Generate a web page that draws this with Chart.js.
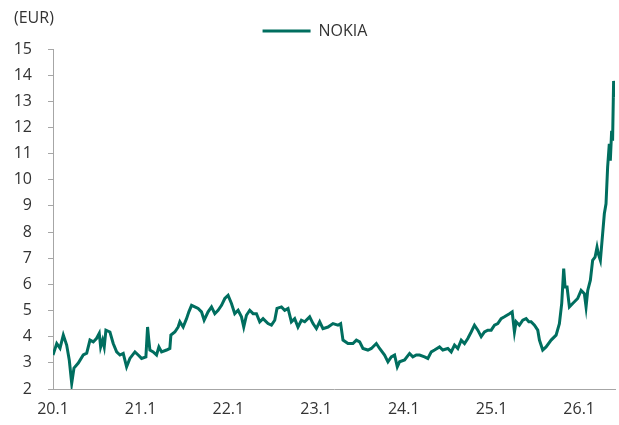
<!DOCTYPE html>
<html>
<head>
<meta charset="utf-8">
<script src="https://cdn.jsdelivr.net/npm/chart.js@4.4.1/dist/chart.umd.min.js"></script>
<style>
  html, body { margin: 0; padding: 0; background: #fff; }
  #wrap { width: 619px; height: 425px; position: relative; }
</style>
</head>
<body>
<div id="wrap"><canvas id="nokiaChart"></canvas></div>
<script>
// months since Jan 2020
const months = [0, 0.51, 0.96, 1.41, 1.87, 2.23, 2.56, 2.87, 3.46, 4.14, 4.61, 5.06, 5.51, 5.97, 6.33, 6.52, 6.79, 7.01, 7.24, 7.79,
  8.24, 8.71, 9.16, 9.61, 10.07, 10.52, 11.21, 11.66, 12.12, 12.71, 12.94, 13.1, 13.26, 13.71, 14.17, 14.49, 14.86, 15.54, 15.99, 16.13,
  16.67, 17.12, 17.36, 17.81, 18.27, 18.59, 18.96, 19.41, 19.86, 20.32, 20.68, 21.22, 21.69, 22.14, 22.59, 23.06, 23.51, 23.96, 24.42, 24.87,
  25.33, 25.79, 26.1, 26.47, 26.92, 27.38, 27.84, 28.29, 28.74, 29.42, 29.89, 30.34, 30.65, 31.26, 31.71, 32.16, 32.62, 33.07, 33.52, 33.99,
  34.44, 35.12, 35.58, 36.04, 36.49, 36.94, 37.63, 38.31, 38.99, 39.36, 39.68, 40.36, 41.04, 41.51, 41.96, 42.41, 43.09, 43.56, 44.24, 44.69,
  45.37, 45.83, 46.29, 46.74, 47.11, 47.42, 48.11, 48.79, 49.24, 49.71, 50.16, 50.84, 51.29, 51.76, 52.21, 52.89, 53.34, 54.03, 54.49, 54.94,
  55.39, 55.86, 56.31, 56.76, 57.22, 57.67, 58.13, 58.59, 59.04, 59.49, 59.96, 60.41, 60.86, 61.32, 61.77, 62.46, 62.83, 63.14, 63.37, 63.82,
  64.28, 64.74, 65.1, 65.42, 65.88, 66.33, 66.56, 67.01, 67.47, 68.16, 68.84, 69.29, 69.61, 69.88, 70.07, 70.34, 70.66, 71.11, 71.79, 72.26,
  72.71, 72.94, 73.17, 73.53, 73.84, 74.17, 74.44, 74.62, 74.9, 75.21, 75.44, 75.67, 75.89, 76.12, 76.26, 76.44, 76.57, 76.71, 76.81];

const prices = [3.3, 3.74, 3.56, 4.06, 3.68, 3.1, 2.22, 2.8, 2.99, 3.3, 3.37, 3.87, 3.8, 3.94, 4.13, 3.61, 3.87, 3.61, 4.25, 4.18,
  3.74, 3.42, 3.3, 3.36, 2.85, 3.17, 3.42, 3.3, 3.17, 3.23, 4.37, 3.9, 3.49, 3.42, 3.3, 3.61, 3.42, 3.49, 3.55, 4.06,
  4.18, 4.37, 4.57, 4.37, 4.69, 4.95, 5.2, 5.14, 5.08, 4.95, 4.63, 4.95, 5.14, 4.88, 5.01, 5.2, 5.46, 5.58, 5.27, 4.88,
  5.01, 4.76, 4.37, 4.82, 5.01, 4.88, 4.88, 4.57, 4.69, 4.5, 4.44, 4.63, 5.08, 5.14, 5.01, 5.08, 4.57, 4.69, 4.37, 4.63,
  4.57, 4.76, 4.5, 4.31, 4.57, 4.31, 4.37, 4.5, 4.44, 4.5, 3.87, 3.74, 3.74, 3.87, 3.8, 3.55, 3.49, 3.55, 3.74, 3.55,
  3.3, 3.04, 3.23, 3.3, 2.85, 3.04, 3.11, 3.36, 3.23, 3.3, 3.3, 3.23, 3.17, 3.42, 3.49, 3.61, 3.49, 3.55, 3.42, 3.68,
  3.55, 3.87, 3.74, 3.93, 4.18, 4.44, 4.25, 4.0, 4.18, 4.25, 4.25, 4.44, 4.5, 4.69, 4.76, 4.88, 4.95, 4.18, 4.57, 4.44,
  4.63, 4.69, 4.57, 4.57, 4.44, 4.25, 3.87, 3.49, 3.61, 3.87, 4.06, 4.5, 5.27, 6.6, 5.9, 5.9, 5.14, 5.27, 5.46, 5.77,
  5.64, 5.14, 5.77, 6.16, 6.92, 7.04, 7.42, 7.17, 6.92, 7.94, 8.7, 9.08, 10.48, 11.37, 10.73, 11.87, 11.49, 13.78, 13.14];

const tickMonths = [0, 12, 24, 36, 48, 60, 72];
const tickLabels = ['20.1', '21.1', '22.1', '23.1', '24.1', '25.1', '26.1'];
const seriesName = 'NOKIA';
const unitLabel = '(EUR)';

const lineColor = '#006e5f';
const textColor = '#333333';
const axisColor = '#a6a6a6';
const fontFamily = '"Open Sans", "Noto Sans", sans-serif';

const unitPlugin = {
    id: 'unitLabel',
    afterDraw(chart) {
        const ctx = chart.ctx;
        ctx.save();
        ctx.font = `16px ${fontFamily}`;
        ctx.fillStyle = textColor;
        ctx.textBaseline = 'middle';
        ctx.textAlign = 'left';
        ctx.fillText(unitLabel, 14, 18);
        ctx.restore();
    }
};

new Chart(document.getElementById('nokiaChart'), {
    type: 'line',
    data: {
        datasets: [{
            label: seriesName,
            data: months.map((m, i) => ({ x: m, y: prices[i] })),
            borderColor: lineColor,
            backgroundColor: lineColor,
            borderWidth: 3,
            pointRadius: 0,
            pointStyle: 'line',
            tension: 0
        }]
    },
    options: {
        responsive: true,
        maintainAspectRatio: false,
        animation: false,
        layout: { padding: { left: 15, right: 4, top: 13, bottom: 0 } },
        scales: {
            x: {
                type: 'linear',
                min: 0,
                max: 76.9,
                afterBuildTicks: (scale) => { scale.ticks = tickMonths.map(v => ({ value: v })); },
                afterFit: (scale) => { scale.height = 36; },
                ticks: {
                    color: textColor,
                    font: { family: fontFamily, size: 16 },
                    padding: 6,
                    maxRotation: 0,
                    autoSkip: false,
                    callback: (v) => tickLabels[tickMonths.indexOf(v)]
                },
                grid: { display: false, drawOnChartArea: false, drawTicks: true, tickLength: 5, color: axisColor },
                border: { color: axisColor }
            },
            y: {
                min: 2,
                max: 15,
                afterFit: (scale) => { scale.width = 38; },
                ticks: {
                    stepSize: 1,
                    color: textColor,
                    font: { family: fontFamily, size: 16 },
                    padding: 16
                },
                grid: { drawOnChartArea: false, drawTicks: true, tickLength: 5, color: axisColor },
                border: { color: axisColor }
            }
        },
        plugins: {
            legend: {
                display: true,
                position: 'top',
                labels: {
                    color: textColor,
                    font: { family: fontFamily, size: 16 },
                    usePointStyle: true,
                    pointStyle: 'line',
                    pointStyleWidth: 48,
                    padding: 10
                }
            },
            tooltip: { enabled: false }
        }
    },
    plugins: [unitPlugin]
});
</script>
</body>
</html>
